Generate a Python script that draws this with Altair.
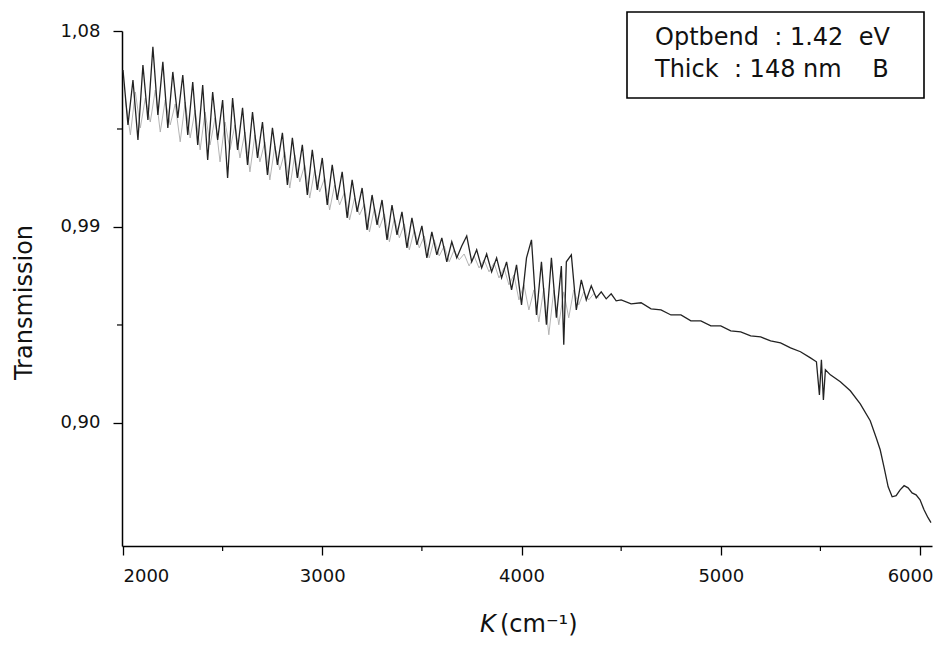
import altair as alt
import pandas as pd

# Dark trace: wavenumber K (cm^-1) and transmission
k_vals = [2000, 2025, 2050, 2075, 2100, 2125, 2150, 2175, 2200, 2225, 2250, 2275,
          2300, 2325, 2350, 2375, 2400, 2425, 2450, 2475, 2500, 2525, 2550, 2575,
          2600, 2625, 2650, 2675, 2700, 2725, 2750, 2775, 2800, 2825, 2850, 2875,
          2900, 2925, 2950, 2975, 3000, 3025, 3050, 3075, 3100, 3125, 3150, 3175,
          3200, 3225, 3250, 3275, 3300, 3325, 3350, 3375, 3400, 3425, 3450, 3475,
          3500, 3525, 3550, 3575, 3600, 3625, 3650, 3675, 3700, 3725, 3750, 3775,
          3800, 3825, 3850, 3875, 3900, 3925, 3950, 3975, 4000, 4025, 4050, 4075,
          4100, 4125, 4150, 4175, 4200, 4212, 4225, 4250, 4275, 4300, 4325, 4350,
          4375, 4400, 4425, 4450, 4475, 4500, 4550, 4600, 4650, 4700, 4750, 4800,
          4850, 4900, 4950, 5000, 5050, 5100, 5150, 5200, 5250, 5300, 5350, 5400,
          5450, 5480, 5495, 5505, 5515, 5525, 5550, 5600, 5650, 5700, 5750, 5780,
          5800, 5820, 5840, 5860, 5880, 5900, 5920, 5940, 5960, 5980, 6000, 6020,
          6040, 6055]
t_vals = [1.0621, 1.0369, 1.0575, 1.0300, 1.0644, 1.0391, 1.0727, 1.0414, 1.0658, 1.0355, 1.0612, 1.0401,
          1.0598, 1.0323, 1.0566, 1.0277, 1.0552, 1.0208, 1.0520, 1.0300, 1.0483, 1.0125, 1.0492, 1.0254,
          1.0447, 1.0185, 1.0428, 1.0217, 1.0382, 1.0139, 1.0355, 1.0185, 1.0332, 1.0093, 1.0309, 1.0125,
          1.0277, 1.0047, 1.0254, 1.0070, 1.0217, 1.0001, 1.0185, 1.0024, 1.0153, 0.9942, 1.0116, 0.9969,
          1.0079, 0.9887, 1.0047, 0.9910, 1.0024, 0.9841, 1.0001, 0.9864, 0.9969, 0.9804, 0.9942, 0.9818,
          0.9905, 0.9758, 0.9877, 0.9772, 0.9850, 0.9740, 0.9832, 0.9758, 0.9813, 0.9859, 0.9740, 0.9795,
          0.9712, 0.9776, 0.9694, 0.9758, 0.9666, 0.9740, 0.9611, 0.9726, 0.9542, 0.9758, 0.9841, 0.9496,
          0.9740, 0.9451, 0.9758, 0.9483, 0.9721, 0.9359, 0.9740, 0.9772, 0.9519, 0.9657, 0.9565, 0.9630,
          0.9574, 0.9602, 0.9570, 0.9593, 0.9561, 0.9565, 0.9547, 0.9552, 0.9524, 0.9519, 0.9496, 0.9496,
          0.9469, 0.9469, 0.9446, 0.9446, 0.9423, 0.9418, 0.9400, 0.9395, 0.9377, 0.9368, 0.9345, 0.9327,
          0.9299, 0.9281, 0.9129, 0.9290, 0.9106, 0.9244, 0.9221, 0.9189, 0.9148, 0.9088, 0.9010, 0.8932,
          0.8877, 0.8794, 0.8707, 0.8661, 0.8666, 0.8693, 0.8712, 0.8702, 0.8679, 0.8670, 0.8647, 0.8601,
          0.8565, 0.8542]

# Lighter stippled part of the noisy band (2000-4400 cm^-1)
k_grey = [2012, 2037, 2062, 2087, 2112, 2137, 2162, 2187, 2212, 2237, 2262, 2287,
          2312, 2337, 2362, 2387, 2412, 2437, 2462, 2487, 2512, 2537, 2562, 2587,
          2612, 2637, 2662, 2687, 2712, 2737, 2762, 2787, 2812, 2837, 2862, 2887,
          2912, 2937, 2962, 2987, 3012, 3037, 3062, 3087, 3112, 3137, 3162, 3187,
          3212, 3237, 3262, 3287, 3312, 3337, 3362, 3387, 3412, 3437, 3462, 3487,
          3512, 3537, 3562, 3587, 3612, 3637, 3662, 3687, 3712, 3737, 3762, 3787,
          3812, 3837, 3862, 3887, 3912, 3937, 3962, 3987, 4012, 4037, 4062, 4087,
          4112, 4137, 4162, 4187, 4212, 4237, 4262, 4287, 4312, 4337, 4362, 4387]
t_grey = [1.0483, 1.0323, 1.0520, 1.0355, 1.0492, 1.0382, 1.0529, 1.0336, 1.0483, 1.0369, 1.0465, 1.0291,
          1.0474, 1.0309, 1.0437, 1.0254, 1.0428, 1.0277, 1.0401, 1.0199, 1.0382, 1.0254, 1.0369, 1.0217,
          1.0336, 1.0153, 1.0323, 1.0199, 1.0291, 1.0116, 1.0272, 1.0162, 1.0245, 1.0079, 1.0231, 1.0107,
          1.0185, 1.0033, 1.0162, 1.0061, 1.0125, 0.9978, 1.0093, 1.0001, 1.0061, 0.9932, 1.0033, 0.9955,
          1.0006, 0.9877, 0.9988, 0.9896, 0.9960, 0.9832, 0.9942, 0.9850, 0.9914, 0.9795, 0.9887, 0.9804,
          0.9859, 0.9758, 0.9841, 0.9767, 0.9813, 0.9740, 0.9795, 0.9749, 0.9776, 0.9721, 0.9767, 0.9712,
          0.9749, 0.9694, 0.9735, 0.9666, 0.9712, 0.9634, 0.9680, 0.9565, 0.9634, 0.9519, 0.9611, 0.9464,
          0.9620, 0.9405, 0.9611, 0.9451, 0.9602, 0.9483, 0.9611, 0.9542, 0.9602, 0.9565, 0.9593, 0.9574]

x_major = [2000, 3000, 4000, 5000, 6000]
x_minor = [2500, 3500, 4500, 5500]
y_major = [0.90, 0.99, 1.08]
y_minor = [0.945, 1.035]

NB = "\u00a0"
box_lines = ["Optbend" + NB * 2 + ":" + NB + "1.42" + NB * 2 + "eV",
             "Thick" + NB * 2 + ":" + NB + "148" + NB + "nm" + NB * 4 + "B"]
x_title_parts = ["K", "(cm⁻¹)"]
y_title = "Transmission"

FONT = "DejaVu Sans"

df = pd.DataFrame({"K": k_vals, "T": t_vals})
dg = pd.DataFrame({"K": k_grey, "T": t_grey})

x_scale = alt.Scale(domain=[1995, 6060], nice=False, zero=False)
y_scale = alt.Scale(domain=[0.8435, 1.08], nice=False, zero=False)

x_axis = alt.Axis(values=x_major, format="d", title=None,
                  tickSize=9, labelPadding=12, grid=False,
                  labelOffset={"condition": {"test": "datum.value >= 6000", "value": -10},
                               "value": 0})
y_axis = alt.Axis(values=y_major,
                  labelExpr="replace(format(datum.value, '.2f'), '.', ',')",
                  title=y_title, tickSize=9, labelPadding=13,
                  titleX=-86, titleY=271, grid=False)

line = alt.Chart(df).mark_line(color="#232323", strokeWidth=1.3, clip=True).encode(
    x=alt.X("K:Q", scale=x_scale, axis=x_axis),
    y=alt.Y("T:Q", scale=y_scale, axis=y_axis),
)

grey = alt.Chart(dg).mark_line(color="#ababab", strokeWidth=0.9, clip=True).encode(
    x=alt.X("K:Q", scale=x_scale, axis=x_axis),
    y=alt.Y("T:Q", scale=y_scale, axis=y_axis),
)

ym = alt.Chart(pd.DataFrame({"T": y_minor})).mark_rule(color="black", strokeWidth=1.2).encode(
    y=alt.Y("T:Q", scale=y_scale, axis=y_axis), x=alt.value(0), x2=alt.value(-5))
xm = alt.Chart(pd.DataFrame({"K": x_minor})).mark_rule(color="black", strokeWidth=1.2).encode(
    x=alt.X("K:Q", scale=x_scale, axis=x_axis), y=alt.value(515), y2=alt.value(520))

box = alt.Chart(pd.DataFrame({"a": [0]})).mark_rect(
    fill="white", stroke="black", strokeWidth=1.6).encode(
    x=alt.value(505), x2=alt.value(802), y=alt.value(-19), y2=alt.value(67))

txt1 = alt.Chart(pd.DataFrame({"s": [box_lines[0]]})).mark_text(
    align="left", baseline="alphabetic", font=FONT, fontSize=24, color="#111").encode(
    x=alt.value(533), y=alt.value(14), text="s:N")
txt2 = alt.Chart(pd.DataFrame({"s": [box_lines[1]]})).mark_text(
    align="left", baseline="alphabetic", font=FONT, fontSize=24, color="#111").encode(
    x=alt.value(533), y=alt.value(46), text="s:N")

xt1 = alt.Chart(pd.DataFrame({"s": [x_title_parts[0]]})).mark_text(
    align="left", baseline="alphabetic", font=FONT, fontSize=24, fontStyle="italic",
    color="#111").encode(x=alt.value(358), y=alt.value(601), text="s:N")
xt2 = alt.Chart(pd.DataFrame({"s": [x_title_parts[1]]})).mark_text(
    align="left", baseline="alphabetic", font=FONT, fontSize=24,
    color="#111").encode(x=alt.value(378), y=alt.value(601), text="s:N")

chart = alt.layer(grey, line, ym, xm, box, txt1, txt2, xt1, xt2).properties(
    width=810, height=515,
    autosize=alt.AutoSizeParams(type="none"),
    padding={"left": 114, "top": 23, "right": 6, "bottom": 95},
    background="white",
).configure_view(stroke=None).configure_axis(
    domainColor="black", domainWidth=1.5, tickColor="black", tickWidth=1.3,
    labelFont=FONT, labelFontSize=18, labelColor="#111",
    titleFont=FONT, titleFontSize=24, titleFontWeight="normal", titleColor="#111",
)

chart.save("out.html", embed_options={"renderer": "svg", "actions": False})
